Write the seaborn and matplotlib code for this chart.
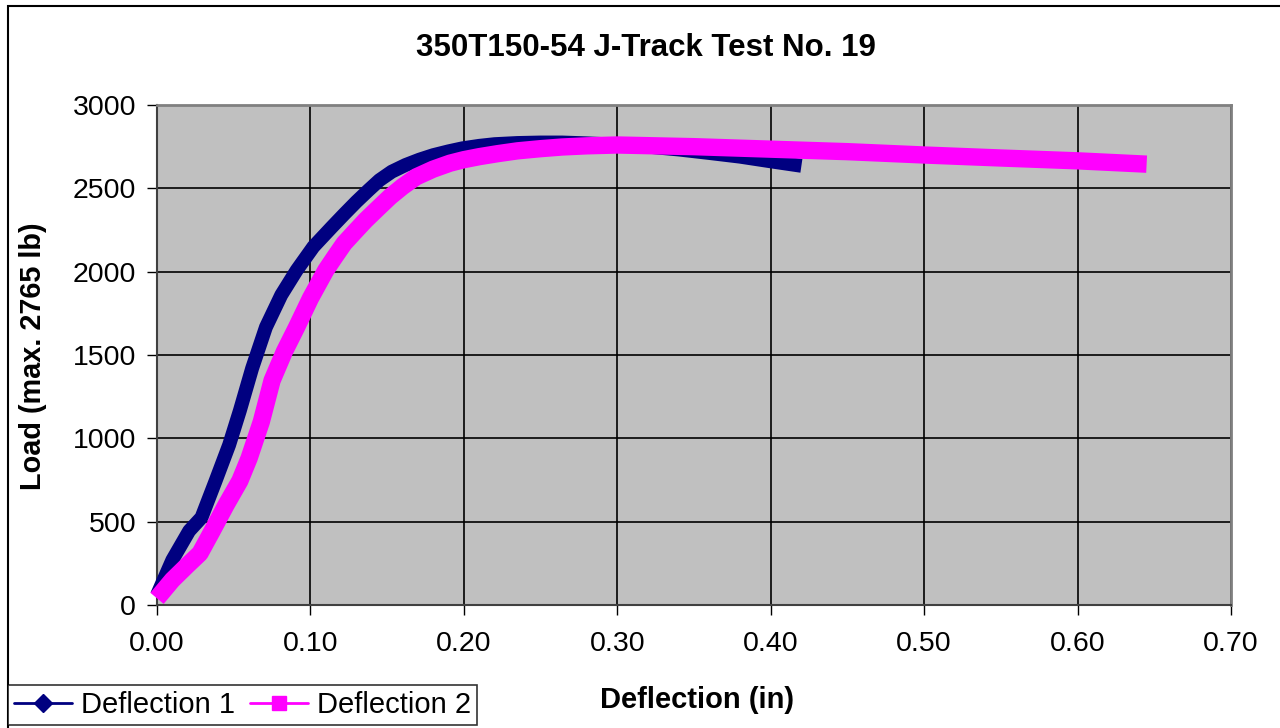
import matplotlib
matplotlib.use("Agg")
import matplotlib.pyplot as plt
import seaborn as sns
import pandas as pd
from matplotlib.lines import Line2D
from matplotlib.patches import Rectangle

# ---- data ----
defl1_x = [0.000, 0.010, 0.021, 0.029, 0.038, 0.047, 0.054, 0.062, 0.071, 0.081, 0.091,
           0.102, 0.114, 0.122, 0.130, 0.138, 0.145, 0.153, 0.162, 0.171, 0.180, 0.190,
           0.199, 0.210, 0.220, 0.235, 0.250, 0.264, 0.280, 0.300,
           0.320, 0.340, 0.360, 0.380, 0.400, 0.420]
defl1_y = [60, 270, 445, 525, 740, 960, 1166, 1420, 1667, 1860, 2008,
           2150, 2268, 2345, 2420, 2490, 2549, 2600, 2640, 2672, 2699, 2722,
           2740, 2755, 2765, 2772, 2775, 2775, 2770, 2762,
           2750, 2733, 2712, 2690, 2662, 2635]

defl2_x = [0.000, 0.010, 0.020, 0.028, 0.036, 0.045, 0.054, 0.060, 0.068, 0.075, 0.083,
           0.091, 0.100, 0.110, 0.116, 0.122, 0.129, 0.136, 0.144, 0.152, 0.160, 0.169,
           0.180, 0.191, 0.200, 0.210, 0.222, 0.235, 0.250, 0.264, 0.280,
           0.300, 0.350, 0.400, 0.450, 0.500, 0.550, 0.600, 0.645]
defl2_y = [40, 150, 240, 310, 445, 600, 745, 880, 1100, 1347, 1520,
           1667, 1840, 2008, 2090, 2170, 2240, 2309, 2380, 2450, 2510, 2569,
           2615, 2651, 2672, 2690, 2708, 2725, 2738, 2748, 2755,
           2760, 2750, 2735, 2720, 2700, 2682, 2665, 2645]

series_names = ["Deflection 1", "Deflection 2"]
colors = ["#000080", "#FF00FF"]

title = "350T150-54 J-Track Test No. 19"
xlabel = "Deflection (in)"
ylabel = "Load (max. 2765 lb)"
xticks = [0.0, 0.1, 0.2, 0.3, 0.4, 0.5, 0.6, 0.7]
yticks = [0, 500, 1000, 1500, 2000, 2500, 3000]

df = pd.concat([
    pd.DataFrame({"x": defl1_x, "y": defl1_y, "series": series_names[0]}),
    pd.DataFrame({"x": defl2_x, "y": defl2_y, "series": series_names[1]}),
])

sns.set_style("white")
plt.rcParams["font.family"] = ["Liberation Sans", "DejaVu Sans"]
plt.rcParams["text.color"] = "black"
plt.rcParams["xtick.color"] = "black"
plt.rcParams["ytick.color"] = "black"
plt.rcParams["axes.labelcolor"] = "black"

W, H = 1280, 728
fig = plt.figure(figsize=(W / 100, H / 100), dpi=100)
fig.patch.set_facecolor("white")
L, R, T, B = 157, 1231, 105, 605
ax = fig.add_axes([L / W, 1 - B / H, (R - L) / W, (B - T) / H])
ax.set_facecolor("#C0C0C0")

widths = {series_names[0]: 10, series_names[1]: 12.5}
for name, col in zip(series_names, colors):
    sub = df[df["series"] == name]
    sns.lineplot(data=sub, x="x", y="y", sort=False, color=col, lw=widths[name],
                 ax=ax, legend=False, estimator=None, solid_capstyle="butt",
                 solid_joinstyle="round", clip_on=False, zorder=3)

ax.set_xlim(0, 0.70)
ax.set_ylim(0, 3000)
ax.set_xticks(xticks)
ax.set_yticks(yticks)
ax.set_xticklabels([f"{v:.2f}" for v in xticks])
ax.set_yticklabels([str(v) for v in yticks])
ax.grid(True, color="black", lw=1.2, zorder=1)
ax.set_axisbelow(True)
ax.tick_params(axis="both", which="both", direction="out", length=7, width=1,
               color="black", labelcolor="black", labelsize=20.5, left=True, bottom=True)
ax.tick_params(axis="x", pad=12)
ax.tick_params(axis="y", pad=8)
for s in ["top", "right"]:
    ax.spines[s].set_color("#808080")
    ax.spines[s].set_linewidth(2)
for s in ["left", "bottom"]:
    ax.spines[s].set_color("#404040")
    ax.spines[s].set_linewidth(1.5)

ax.set_xlabel("")
ax.set_ylabel("")
fig.text(697 / W, 1 - 700 / H, xlabel, ha="center", va="center",
         fontsize=21, fontweight="bold", color="black")
fig.text(33 / W, 1 - 356 / H, ylabel, ha="center", va="center", rotation=90,
         fontsize=20.8, fontweight="bold", color="black")
fig.text(646 / W, 1 - 48 / H, title, ha="center", va="center",
         fontsize=22.5, fontweight="bold", color="black")

# outer chart border
fig.patches.append(Rectangle((8 / W, -0.05), 1.1, 1 - 6 / H + 0.05, transform=fig.transFigure,
                             fill=False, edgecolor="black", lw=1.5))

handles = [
    Line2D([], [], color=colors[0], lw=2, marker="D", markersize=9),
    Line2D([], [], color=colors[1], lw=2, marker="s", markersize=10),
]
leg = fig.legend(handles, series_names, loc="upper left", bbox_to_anchor=(8 / W, 1 - 685 / H),
                 ncol=2, fontsize=21, frameon=True, fancybox=False, edgecolor="black",
                 handlelength=2.0, handletextpad=0.3, columnspacing=0.5, borderpad=0.2,
                 borderaxespad=0, labelcolor="black")
leg.get_frame().set_linewidth(1.2)

fig.savefig("out.png", dpi=100)
